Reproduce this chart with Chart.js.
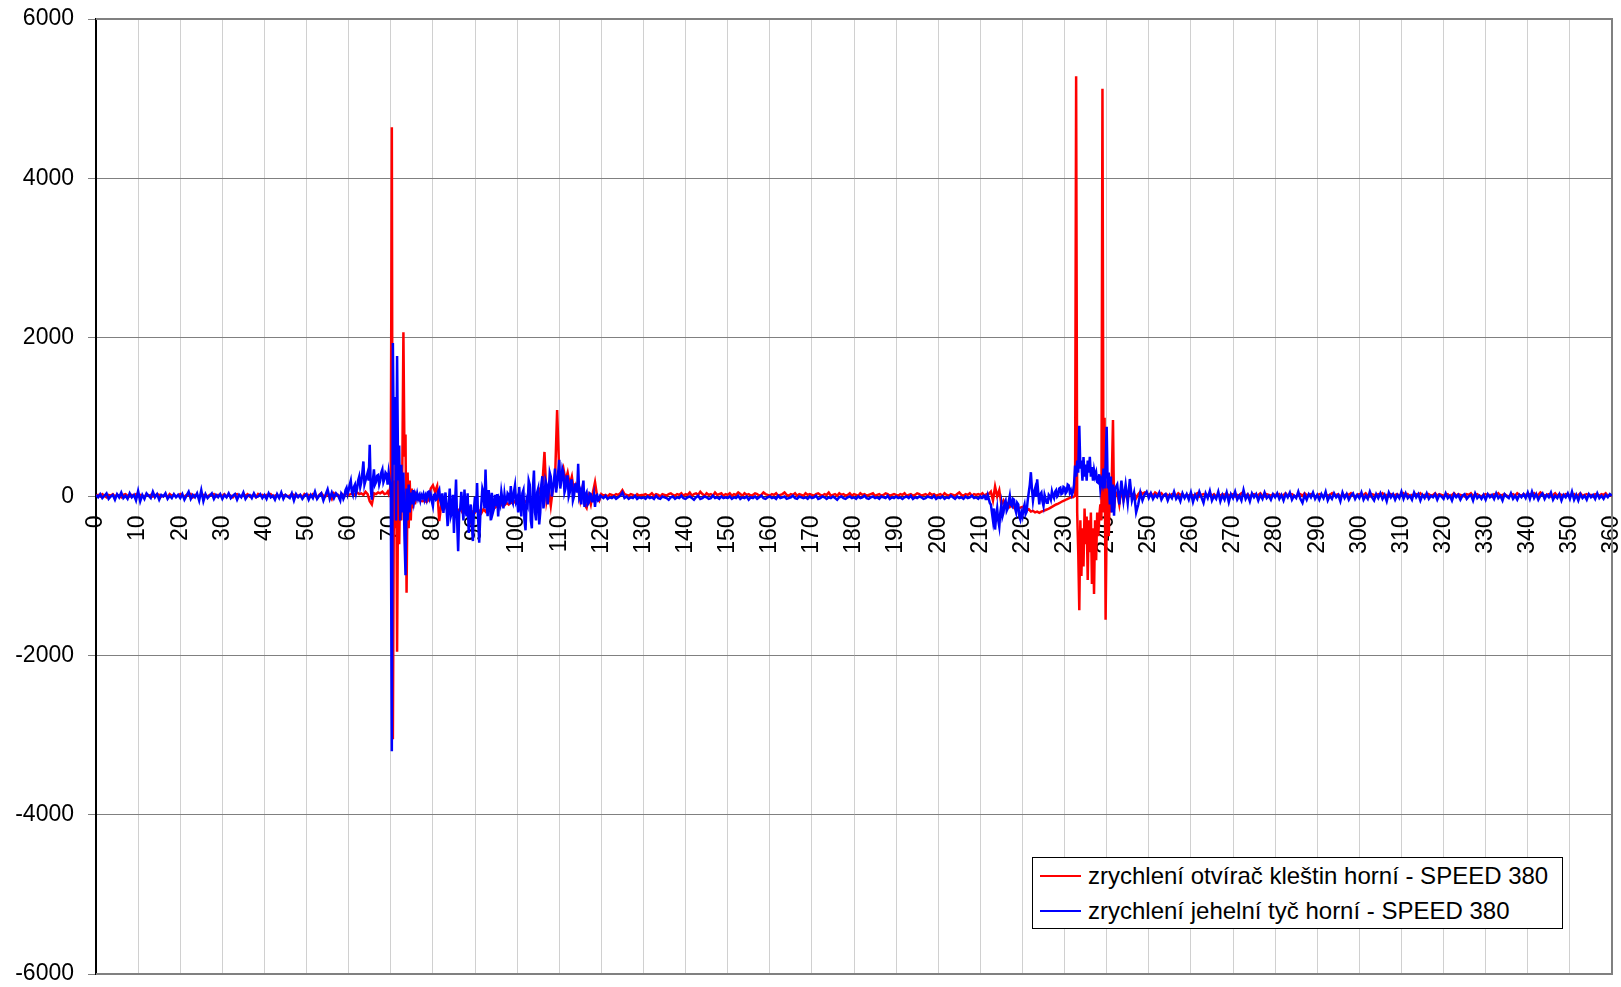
<!DOCTYPE html>
<html>
<head>
<meta charset="utf-8">
<title>zrychlení - SPEED 380</title>
<script src="https://cdn.jsdelivr.net/npm/chart.js@4/dist/chart.umd.min.js"></script>
<style>
  html, body { margin: 0; padding: 0; background: #fff; overflow: hidden; }
  #wrap { position: relative; width: 1621px; height: 987px; }
  #legend {
    position: absolute; left: 1032px; top: 857px; width: 529px; height: 70px;
    border: 1px solid #000; background: #fff;
    font-family: "Liberation Sans", Arial, sans-serif; font-size: 24px; color: #000;
  }
  #legend .row { height: 35px; display: flex; align-items: center; white-space: nowrap; }
  #legend .swatch { flex: 0 0 41px; height: 2px; margin: 0 7px 0 7px; }
</style>
</head>
<body>
<div id="wrap">
  <canvas id="accChart" width="1621" height="987"></canvas>
  <div id="legend"></div>
</div>
<script>
// popisky os
const yTicks = [-6000, -4000, -2000, 0, 2000, 4000, 6000];
const angleMax = 360;
const angleTickStep = 10;

const seriesLabels = [
  'zrychlení otvírač kleštin horní - SPEED 380',
  'zrychlení jehelní tyč horní - SPEED 380'
];

// hodnoty po 0.5 stupne (0 .. 360), jeden radek = 10 stupnu
const coarseStep = 0.5;
const redValues = [
  10,20,0,30,10,-10,20,10,30,0,20,10,-10,20,30,10,0,20,10,30,          // 0
  0,20,10,-10,30,10,20,0,10,30,20,0,10,20,-10,30,10,20,0,10,           // 10
  30,10,0,20,10,30,-10,20,10,0,30,20,10,0,20,10,30,0,20,10,            // 20
  10,30,0,20,10,-10,20,30,10,0,20,10,30,0,10,20,-10,30,10,20,          // 30
  0,20,10,30,0,10,20,-10,30,10,20,0,10,30,20,0,10,20,-10,30,           // 40
  10,20,0,30,10,-20,20,40,10,0,30,20,-30,40,10,20,0,30,10,40,          // 50
  20,30,40,20,50,30,40,20,60,30,-60,-100,40,30,50,40,60,30,40,80,      // 60
  150,-3050,1000,300,200,100,2065,780,300,200,100,50,20,-40,-50,-60,-50,-70,-40,100, // 70
  140,60,130,-310,-100,-150,-120,-180,-140,-200,-160,-220,-180,-150,-200,-170,-210,-160,-300,-190, // 80
  -200,-150,-180,-210,-160,-190,-140,-170,-130,-150,-130,-110,-120,-90,-110,-80,-100,-70,-90,-60, // 90
  -80,-60,-90,-50,-70,-40,-60,-30,-50,-20,20,100,150,560,-50,100,-115,100,200,1085, // 100
  300,250,350,200,300,150,250,50,150,100,-50,100,-100,-145,0,-100,50,180,0,-50, // 110
  30,10,20,0,30,20,10,30,20,40,80,30,20,10,30,20,0,30,10,20,           // 120
  20,30,10,20,40,10,30,20,0,30,20,10,30,40,20,10,30,20,40,10,          // 130
  30,20,50,10,30,40,20,60,30,10,40,20,30,10,50,20,30,40,10,30,         // 140
  20,40,10,30,20,50,30,10,40,20,30,10,20,40,30,10,20,50,30,20,         // 150
  10,30,20,40,10,20,30,50,20,10,30,20,40,10,30,20,10,40,20,30,         // 160
  20,10,30,40,20,10,30,20,50,10,20,30,10,40,20,30,10,20,40,10,         // 170
  30,20,10,40,20,30,10,20,30,40,10,20,30,10,20,40,30,10,20,30,         // 180
  20,10,30,20,40,10,20,30,10,20,40,30,10,20,30,10,40,20,30,10,         // 190
  20,30,10,40,20,10,30,20,10,30,50,20,10,30,20,40,10,30,20,30,         // 200
  20,40,10,30,30,60,-50,125,0,80,-100,-50,-120,-90,-130,-100,-140,-120,-150,-140, // 210
  -130,-150,-170,-160,-190,-180,-200,-190,-205,-190,-180,-170,-160,-145,-130,-115,-100,-90,-75,-60, // 220
  -50,-35,-25,-10,0,0,-200,-1430,-1000,-880,-600,-1050,-700,-1100,-1225,-800,-500,-100,5125,-1550, // 230
  -700,-300,-200,960,0,50,-100,100,-50,50,-30,80,0,40,-20,30,60,30,50,40, // 240
  20,40,10,50,30,20,40,10,30,20,0,30,20,10,40,20,30,0,20,10,           // 250
  30,10,20,40,0,20,30,10,20,40,10,30,0,20,10,30,20,40,10,20,           // 260
  30,0,20,10,40,20,10,30,0,20,30,10,20,40,10,0,30,20,10,30,            // 270
  20,10,30,0,20,40,10,20,30,10,0,20,30,10,40,20,10,30,20,0,            // 280
  10,30,20,0,30,10,20,40,10,20,30,0,20,10,30,20,40,10,0,20,            // 290
  30,10,20,40,10,0,30,20,10,30,20,40,10,20,0,30,10,20,30,10,           // 300
  20,40,10,30,0,20,10,30,20,40,10,20,0,30,10,20,40,10,30,20,           // 310
  10,20,30,0,20,40,10,30,20,10,0,30,20,40,10,20,30,10,0,20,            // 320
  30,10,20,0,30,20,40,10,20,30,10,0,20,30,10,40,20,10,30,20,           // 330
  10,30,20,40,10,20,50,30,10,20,30,0,20,40,10,30,20,10,30,20,          // 340
  20,10,30,0,20,40,10,20,30,10,20,0,30,20,10,30,20,40,10,20,           // 350
  10                                                                   // 360
];

const blueValues = [
  20,-10,30,-20,10,40,-30,0,20,-40,30,-10,50,-20,10,-30,40,-10,20,-50, // 0
  70,-60,20,-30,40,10,-20,60,-10,30,-40,20,0,40,-30,10,-20,30,-10,20,  // 10
  -20,30,-40,10,60,-30,20,-10,40,-50,80,-60,30,-20,10,40,-30,20,-10,30, // 20
  -30,20,-10,40,-20,10,30,-40,20,-10,50,-30,10,20,-20,40,-10,0,30,-20, // 30
  20,-30,40,-10,10,-40,30,-20,50,-30,20,0,-20,40,-50,30,-10,20,-30,10, // 40
  30,-40,20,-20,60,-30,10,40,-50,20,90,-30,50,-20,40,10,-40,60,0,110,  // 50
  80,200,20,150,100,250,180,440,200,300,650,-40,340,180,270,200,340,220,280,200, // 60
  -3200,1930,1250,1765,640,400,300,-990,-300,-200,-100,-60,-20,40,-50,30,-40,-38,60,25, // 70
  -120,30,-30,88,-100,-205,50,-373,100,-200,-457,214,-687,-150,-120,88,-250,-457,-100,-560, // 80
  0,170,-580,-100,50,340,-247,-50,46,-150,-120,30,-100,-38,25,-60,20,130,-80,140, // 90
  -20,120,-250,80,-425,-100,150,-400,325,-300,100,-200,255,-50,150,50,250,100,350,150, // 100
  460,200,300,100,250,50,200,0,150,410,50,100,-130,50,-80,30,-60,-130,20,-40, // 110
  0,-20,10,-30,-10,-20,0,-30,-10,10,50,-20,0,-30,-10,-20,10,-30,-10,-20, // 120
  -10,-30,0,-20,-10,-30,10,-20,-30,0,-10,-20,-40,-10,0,-30,-10,-20,10,-20, // 130
  -30,-10,0,-20,-40,-10,10,-30,-20,0,-10,-30,-20,10,-20,-10,-30,0,-20,-10, // 140
  -20,0,-30,-10,-20,10,-30,-10,-20,0,-40,-10,-20,0,-30,-10,10,-20,-30,-10, // 150
  0,-20,-10,-30,10,-20,-10,0,-30,-20,-10,10,-20,-30,0,-10,-20,-10,-30,0, // 160
  -20,-10,10,-30,-20,0,-10,-30,-10,-20,0,-20,-40,-10,0,-20,-30,-10,0,-20, // 170
  -10,-30,0,-20,-10,10,-20,-30,-10,0,-20,-10,-30,0,-10,-20,10,-30,-10,-20, // 180
  0,-20,-10,-30,-10,0,-20,10,-30,-10,-20,0,-10,-30,-20,0,-10,-20,10,-30, // 190
  -10,-20,0,-30,-10,-20,10,-10,-30,0,-20,-10,-30,0,-20,-10,10,-20,-10,-30, // 200
  0,-20,10,-30,-30,-100,-300,-415,-150,-380,-100,-200,-50,-150,10,-120,-40,-200,-100,-290, // 210
  -250,-100,-190,50,305,-50,100,215,-100,50,-120,-30,-80,0,65,-20,80,20,110,40, // 220
  110,60,140,80,60,390,450,890,450,495,400,450,350,370,330,300,170,100,150,100, // 230
  875,300,250,150,100,150,-100,200,-50,150,-80,220,-50,50,-200,-100,50,-50,20,60, // 240
  -20,40,-30,20,-10,50,-40,10,30,-50,20,-20,60,-30,10,-60,40,-20,30,-40, // 250
  50,-70,20,-30,60,-10,-80,40,-20,70,-50,10,-30,60,-60,20,-40,50,-70,30, // 260
  -20,60,-40,10,-50,80,-30,20,-60,40,-10,30,-50,20,-30,50,-20,10,-40,30, // 270
  -10,40,-30,20,-50,30,-10,50,-40,10,-20,60,-30,-80,20,-40,30,-10,50,-30, // 280
  20,-40,30,-20,60,-50,10,-30,40,-10,20,-60,50,-20,30,-40,10,40,-30,20, // 290
  -20,50,-40,10,-30,60,-10,-50,30,-20,40,-30,20,-60,50,-10,30,-40,20,-20, // 300
  60,-30,40,-20,10,-40,50,-10,30,-50,20,-20,40,-30,10,-10,30,-40,20,0, // 310
  -30,40,-20,10,-50,30,-10,20,-40,10,30,-30,0,20,-50,40,-20,10,-30,20, // 320
  -40,30,-10,20,-30,40,-20,10,-50,30,0,-20,40,-30,10,-40,20,-10,30,-20, // 330
  50,-30,60,-20,30,-40,10,40,-30,20,-10,50,-40,10,-20,30,-50,20,-10,40, // 340
  -30,60,-40,20,-50,30,-20,10,-40,30,-10,20,-30,40,-20,10,-30,20,-10,30, // 350
  10                                                                   // 360
];

// husta mista jemneji, po 0.25 stupne (jeden radek = 1 stupen)
const fineStep = 0.25;
const redSpike70 = [   // 69 .. 76
  40,60,30,80,150,4640,-3050,200,-400,1000,-1950,300,-600,200,-300,
  400,2065,500,780,-1210,300,-400,200,-300,100,-150,50,-100,20
];
const redSpike232 = [  // 232 .. 242
  -10,0,10,5280,-200,-700,-1430,-300,-1000,-400,-880,-150,-600,-250,
  -1050,-300,-700,-200,-1100,-400,-1225,-300,-800,-200,-500,-250,-100,
  -300,5125,-200,990,-1550,-300,200,-500,100,-200,300,960,-150,0
];

const blueRise60 = [   // 58 .. 68.75
  -50,40,20,-30,
  0,80,110,30,
  80,150,200,60,
  20,120,150,40,
  100,200,250,120,
  180,300,440,150,
  200,250,300,200,
  650,100,-40,200,
  340,150,180,260,
  270,150,200,300,
  340,180,220,300
];
const blueSpike70 = [  // 69 .. 76
  280,150,300,200,100,-3200,1930,400,1250,-300,1765,200,640,-300,400,
  -200,300,-500,-990,100,-300,150,-200,50,-100,80,-60,30,-20
];
const blueBurst90 = [  // 76.25 .. 120
  40,-30,10,
  -50,20,-10,30,
  -40,10,-38,50,
  60,-20,25,-60,
  -120,20,30,-40,
  -30,60,88,-50,
  -100,40,-205,-60,
  50,-150,-373,-100,
  100,-250,-200,20,
  -457,-100,214,-300,
  -687,-200,-150,60,
  -120,-300,88,-150,
  -250,40,-457,-200,
  -100,-350,-560,-150,
  0,-200,170,-300,
  -580,-250,-100,100,
  50,-150,340,-100,
  -247,80,-50,-300,
  46,-200,-150,20,
  -120,30,-250,-50,
  -100,60,-38,-150,
  25,-80,-60,40,
  20,-100,130,-40,
  -80,60,140,-60,
  -20,-200,120,-100,
  -250,40,80,-300,
  -425,-50,-100,200,
  150,-300,-400,100,
  325,-200,-300,50,
  100,-350,-200,150,
  255,-150,-50,200,
  150,-100,50,300,
  250,0,100,200,
  350,50,150,300,
  460,100,200,350,
  300,50,100,250,
  250,0,50,200,
  200,-50,0,150,
  150,50,410,0,
  50,-100,100,200,
  -130,20,50,-100,
  -80,40,30,-60,
  -60,20,-130,10,
  20,-50,-40,10,
  0
];
const blueDip215 = [   // 210 .. 231.75
  0,-20,-20,10,
  10,-30,-30,20,
  -30,-80,-100,-200,
  -300,-150,-415,-250,
  -150,-300,-380,-200,
  -100,-250,-200,-80,
  -50,-180,-150,-60,
  10,-100,-120,-30,
  -40,-150,-200,-80,
  -100,-250,-290,-200,
  -250,-150,-100,-220,
  -190,-50,50,150,
  305,100,-50,50,
  100,0,215,50,
  -100,30,50,-60,
  -120,20,-30,-80,
  -80,20,0,-40,
  65,10,-20,60,
  80,0,20,100,
  110,30,40,120,
  110,40,60,150,
  140,50,80,20
];
const blueSpike232 = [ // 232 .. 242
  60,150,390,250,450,300,890,350,450,200,495,250,400,200,450,300,500,
  250,370,200,330,250,300,180,170,280,100,200,150,350,100,400,875,100,
  300,-100,250,-200,150,-240,100
];

function buildPoints(values, segments) {
  let points = [];
  values.forEach((v, i) => {
    let a = i * coarseStep;
    let covered = segments.some(s => a >= s.from && a <= s.from + (s.values.length - 1) * fineStep);
    if (!covered) {
      points.push({ x: a, y: v });
    }
  });
  segments.forEach(s => {
    s.values.forEach((v, i) => points.push({ x: s.from + i * fineStep, y: v }));
  });
  points.sort((p, q) => p.x - q.x);
  return points;
}

const redPoints = buildPoints(redValues, [
  { from: 69, values: redSpike70 },
  { from: 232, values: redSpike232 }
]);
const bluePoints = buildPoints(blueValues, [
  { from: 58, values: blueRise60 },
  { from: 69, values: blueSpike70 },
  { from: 76.25, values: blueBurst90 },
  { from: 210, values: blueDip215 },
  { from: 232, values: blueSpike232 }
]);

const fontFamily = '"Liberation Sans", Arial, sans-serif';

// ram kolem grafu (horni, prava a spodni strana)
const framePlugin = {
  id: 'plotFrame',
  beforeDatasetsDraw(chart) {
    const { ctx, chartArea } = chart;
    ctx.save();
    ctx.strokeStyle = '#808080';
    ctx.lineWidth = 2;
    ctx.beginPath();
    ctx.moveTo(chartArea.left, chartArea.top);
    ctx.lineTo(chartArea.right, chartArea.top);
    ctx.lineTo(chartArea.right, chartArea.bottom);
    ctx.lineTo(chartArea.left, chartArea.bottom);
    ctx.stroke();
    ctx.restore();
  }
};

const ctx = document.getElementById('accChart').getContext('2d');
const accChart = new Chart(ctx, {
  type: 'line',
  data: {
    datasets: [{
      label: seriesLabels[0],
      data: redPoints,
      borderColor: '#ff0000',
      borderWidth: 2.5,
      pointRadius: 0,
      tension: 0,
      order: 1
    }, {
      label: seriesLabels[1],
      data: bluePoints,
      borderColor: '#0000ff',
      borderWidth: 2.5,
      pointRadius: 0,
      tension: 0,
      order: 0
    }]
  },
  options: {
    responsive: false,
    animation: false,
    devicePixelRatio: 1,
    layout: { padding: { top: 19, right: 9, bottom: 13, left: 0 } },
    plugins: {
      legend: { display: false },
      tooltip: { enabled: false }
    },
    scales: {
      x: {
        type: 'linear',
        position: { y: 0 },
        min: 0,
        max: angleMax,
        afterFit(scale) {
          // osa lezi uvnitr grafu, nebrat ji misto
          scale.height = 0;
          scale.paddingLeft = 0;
          scale.paddingRight = 0;
        },
        ticks: {
          stepSize: angleTickStep,
          autoSkip: false,
          minRotation: 90,
          maxRotation: 90,
          padding: 11,
          color: '#000',
          font: { family: fontFamily, size: 23 },
          callback: v => String(v)
        },
        grid: { color: '#d0d0d0', lineWidth: 1, tickLength: 8 },
        border: { display: true, color: '#333', width: 1 }
      },
      y: {
        min: yTicks[0],
        max: yTicks[yTicks.length - 1],
        afterBuildTicks(scale) {
          scale.ticks = yTicks.map(v => ({ value: v }));
        },
        afterFit(scale) {
          scale.width = 96;
          scale.paddingTop = 0;
          scale.paddingBottom = 0;
        },
        ticks: {
          padding: 14,
          color: '#000',
          font: { family: fontFamily, size: 23 },
          callback: v => String(v)
        },
        grid: { color: '#808080', lineWidth: 1, tickLength: 8 },
        border: { display: true, color: '#000', width: 2 }
      }
    }
  },
  plugins: [framePlugin]
});

// legenda v rohu grafu
const legendBox = document.getElementById('legend');
accChart.data.datasets.forEach(ds => {
  let row = document.createElement('div');
  row.className = 'row';
  let sw = document.createElement('span');
  sw.className = 'swatch';
  sw.style.background = ds.borderColor;
  let txt = document.createElement('span');
  txt.textContent = ds.label;
  row.appendChild(sw);
  row.appendChild(txt);
  legendBox.appendChild(row);
});
</script>
</body>
</html>
